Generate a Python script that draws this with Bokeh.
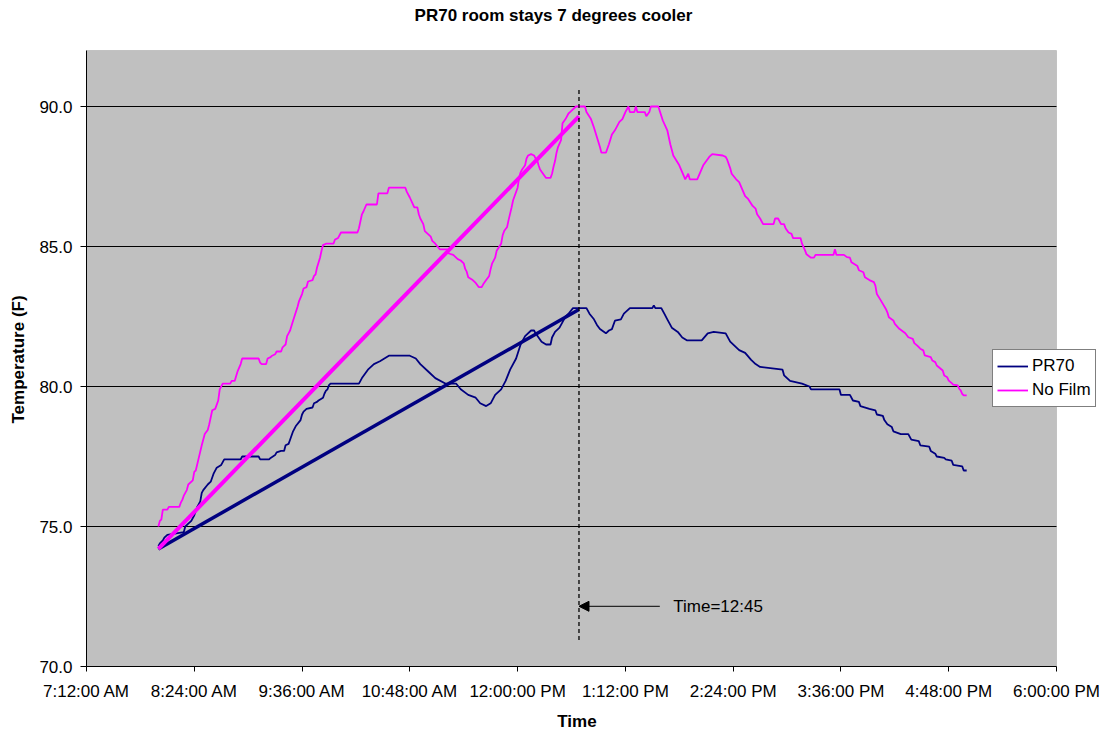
from bokeh.plotting import figure
from bokeh.models import (ColumnDataSource, FixedTicker, Legend, LegendItem, Label,
                          Arrow, NormalHead, Range1d, PrintfTickFormatter, BoxAnnotation)
from bokeh.embed import file_html
from bokeh.resources import INLINE

FONT = "Liberation Sans"

title_text = "PR70 room stays 7 degrees cooler"
x_axis_title = "Time"
y_axis_title = "Temperature (F)"

tick_times = ["7:12", "8:24", "9:36", "10:48", "12:00", "13:12", "14:24", "15:36", "16:48", "18:00"]
tick_labels = ["7:12:00 AM", "8:24:00 AM", "9:36:00 AM", "10:48:00 AM", "12:00:00 PM",
               "1:12:00 PM", "2:24:00 PM", "3:36:00 PM", "4:48:00 PM", "6:00:00 PM"]
y_ticks = [70, 75, 80, 85, 90]
grid_ticks = [75, 80, 85, 90]
y_min, y_max = 70, 92

pr70_times = ["8:00", "8:01", "8:03", "8:04", "8:06", "8:17", "8:18", "8:20", "8:22", "8:24",
              "8:26", "8:28", "8:29", "8:30", "8:33", "8:35", "8:37", "8:39", "8:42", "8:44",
              "8:55", "8:56", "9:07", "9:08", "9:14", "9:15", "9:18", "9:19", "9:22", "9:24",
              "9:25", "9:27", "9:28", "9:30", "9:32", "9:35", "9:36", "9:37", "9:39", "9:43",
              "9:44", "9:46", "9:47", "9:50", "9:51", "9:52", "9:53", "9:54", "9:55", "10:14",
              "10:16", "10:20", "10:24", "10:28", "10:34", "10:48", "10:52", "10:55", "11:01", "11:05",
              "11:12", "11:19", "11:22", "11:27", "11:32", "11:35", "11:39", "11:42", "11:45", "11:49",
              "11:52", "11:55", "11:59", "12:02", "12:05", "12:09", "12:11", "12:12", "12:14", "12:16",
              "12:19", "12:22", "12:23", "12:25", "12:28", "12:30", "12:32", "12:34", "12:37", "12:46",
              "12:48", "12:51", "12:53", "12:55", "12:59", "13:01", "13:03", "13:05", "13:09", "13:11",
              "13:15", "13:30", "13:31", "13:32", "13:36", "13:38", "13:40", "13:43", "13:47", "13:50",
              "13:53", "14:03", "14:07", "14:11", "14:19", "14:22", "14:28", "14:32", "14:36", "14:39",
              "14:42", "14:57", "14:58", "15:02", "15:10", "15:15", "15:16", "15:35", "15:36", "15:42",
              "15:44", "15:48", "15:49", "15:55", "15:59", "16:00", "16:04", "16:05", "16:07", "16:10",
              "16:11", "16:16", "16:21", "16:23", "16:28", "16:29", "16:35", "16:36", "16:39", "16:40",
              "16:45", "16:46", "16:50", "16:51", "16:57", "16:58", "17:00"]
pr70_temps = [74.3, 74.4, 74.5, 74.6, 74.7, 74.8, 75.0, 75.1, 75.2, 75.4,
              75.7, 75.9, 76.2, 76.3, 76.5, 76.6, 76.9, 77.1, 77.2, 77.4,
              77.4, 77.5, 77.5, 77.4, 77.4, 77.45, 77.55, 77.65, 77.7, 77.7,
              77.9, 77.95, 78.1, 78.4, 78.6, 78.8, 79.0, 79.1, 79.2, 79.25,
              79.4, 79.45, 79.5, 79.6, 79.75, 79.85, 79.9, 80.05, 80.1, 80.1,
              80.3, 80.6, 80.8, 80.9, 81.1, 81.1, 81.0, 80.8, 80.5, 80.3,
              80.1, 80.1, 79.9, 79.7, 79.6, 79.4, 79.3, 79.4, 79.7, 79.9,
              80.2, 80.6, 81.0, 81.5, 81.8, 82.0, 82.0, 81.9, 81.75, 81.6,
              81.5, 81.5, 81.75, 81.95, 82.1, 82.3, 82.5, 82.6, 82.8, 82.8,
              82.6, 82.4, 82.2, 82.05, 81.9, 82.0, 82.05, 82.35, 82.4, 82.6,
              82.8, 82.8, 82.9, 82.8, 82.8, 82.6, 82.4, 82.1, 81.95, 81.75,
              81.65, 81.65, 81.9, 81.95, 81.9, 81.6, 81.3, 81.2, 80.95, 80.8,
              80.7, 80.6, 80.4, 80.2, 80.1, 80.0, 79.9, 79.9, 79.7, 79.7,
              79.5, 79.45, 79.3, 79.2, 79.15, 79.0, 78.95, 78.8, 78.65, 78.55,
              78.4, 78.3, 78.3, 78.1, 78.05, 77.9, 77.85, 77.7, 77.6, 77.5,
              77.45, 77.4, 77.35, 77.2, 77.15, 77.0, 77.0]

nofilm_times = ["8:00", "8:01", "8:02", "8:03", "8:06", "8:07", "8:14", "8:15", "8:16", "8:17",
                "8:19", "8:20", "8:23", "8:24", "8:25", "8:27", "8:29", "8:31", "8:33", "8:34",
                "8:36", "8:38", "8:40", "8:41", "8:43", "8:48", "8:49", "8:51", "8:53", "8:55",
                "8:56", "9:07", "9:08", "9:09", "9:12", "9:13", "9:15", "9:16", "9:18", "9:19",
                "9:22", "9:23", "9:24", "9:25", "9:26", "9:27", "9:28", "9:30", "9:33", "9:34",
                "9:36", "9:37", "9:39", "9:40", "9:43", "9:44", "9:45", "9:46", "9:48", "9:49",
                "9:50", "9:52", "9:57", "9:58", "10:00", "10:02", "10:13", "10:14", "10:16", "10:17",
                "10:19", "10:26", "10:27", "10:33", "10:34", "10:45", "10:46", "10:48", "10:51", "10:53",
                "10:54", "10:55", "10:57", "10:58", "11:02", "11:03", "11:05", "11:08", "11:13", "11:14",
                "11:17", "11:20", "11:22", "11:24", "11:25", "11:26", "11:27", "11:30", "11:32", "11:34",
                "11:36", "11:37", "11:39", "11:41", "11:42", "11:43", "11:45", "11:46", "11:49", "11:50",
                "11:51", "11:53", "11:54", "11:56", "11:57", "12:00", "12:01", "12:02", "12:03", "12:05",
                "12:06", "12:07", "12:09", "12:11", "12:12", "12:13", "12:14", "12:15", "12:17", "12:19",
                "12:22", "12:23", "12:24", "12:25", "12:26", "12:27", "12:29", "12:30", "12:32", "12:34",
                "12:35", "12:39", "12:45", "12:46", "12:49", "12:51", "12:53", "12:55", "12:56", "12:59",
                "13:01", "13:03", "13:05", "13:08", "13:10", "13:12", "13:14", "13:15", "13:18", "13:19",
                "13:20", "13:25", "13:26", "13:28", "13:29", "13:34", "13:37", "13:40", "13:42", "13:44",
                "13:48", "13:50", "13:52", "13:54", "13:55", "14:00", "14:02", "14:04", "14:08", "14:10",
                "14:17", "14:19", "14:20", "14:22", "14:23", "14:26", "14:28", "14:30", "14:32", "14:34",
                "14:37", "14:39", "14:40", "14:42", "14:44", "14:51", "14:52", "14:54", "14:56", "14:58",
                "14:59", "15:01", "15:03", "15:04", "15:09", "15:10", "15:12", "15:13", "15:16", "15:18",
                "15:19", "15:31", "15:32", "15:33", "15:38", "15:40", "15:42", "15:43", "15:47", "15:48",
                "15:51", "15:52", "15:55", "15:58", "15:59", "16:00", "16:02", "16:04", "16:06", "16:07",
                "16:08", "16:11", "16:12", "16:15", "16:17", "16:19", "16:21", "16:24", "16:25", "16:27",
                "16:29", "16:31", "16:32", "16:36", "16:37", "16:39", "16:40", "16:44", "16:45", "16:47",
                "16:48", "16:50", "16:51", "16:54", "16:55", "16:56", "16:57", "16:58", "17:00"]
nofilm_temps = [75.0, 75.2, 75.25, 75.6, 75.6, 75.7, 75.7, 75.85, 75.95, 76.1,
                76.3, 76.5, 76.65, 76.95, 77.0, 77.45, 77.9, 78.3, 78.45, 78.65,
                79.15, 79.2, 79.5, 79.9, 80.1, 80.1, 80.2, 80.2, 80.55, 80.8,
                81.0, 81.0, 80.85, 80.8, 80.8, 81.0, 81.05, 81.1, 81.15, 81.25,
                81.25, 81.4, 81.45, 81.5, 81.8, 81.9, 82.0, 82.35, 82.85, 83.05,
                83.3, 83.5, 83.55, 83.75, 83.8, 83.95, 84.0, 84.25, 84.6, 84.85,
                85.05, 85.1, 85.1, 85.25, 85.3, 85.5, 85.5, 85.65, 86.15, 86.25,
                86.5, 86.5, 86.9, 86.9, 87.1, 87.1, 86.95, 86.75, 86.4, 86.4,
                86.15, 86.0, 85.8, 85.55, 85.35, 85.2, 85.1, 84.9, 84.9, 84.75,
                84.7, 84.55, 84.5, 84.4, 84.2, 84.1, 83.9, 83.8, 83.7, 83.55,
                83.55, 83.65, 83.8, 83.95, 84.2, 84.4, 84.6, 84.85, 85.1, 85.4,
                85.55, 85.7, 85.95, 86.4, 86.65, 87.1, 87.45, 87.65, 87.75, 87.9,
                88.15, 88.25, 88.3, 88.25, 88.15, 88.1, 87.9, 87.75, 87.6, 87.45,
                87.45, 87.6, 87.85, 88.05, 88.35, 88.55, 88.8, 89.4, 89.55, 89.75,
                89.8, 90.0, 90.0, 89.8, 89.55, 89.25, 88.9, 88.55, 88.35, 88.35,
                88.65, 89.0, 89.15, 89.45, 89.55, 89.8, 90.0, 89.8, 89.8, 90.0,
                89.8, 89.8, 89.65, 89.8, 90.0, 90.0, 89.5, 89.15, 88.65, 88.25,
                87.9, 87.65, 87.4, 87.6, 87.4, 87.4, 87.65, 87.9, 88.2, 88.3,
                88.25, 88.2, 88.1, 87.8, 87.6, 87.4, 87.3, 87.05, 86.8, 86.7,
                86.45, 86.35, 86.15, 86.0, 85.8, 85.8, 86.0, 86.0, 85.8, 85.8,
                85.65, 85.5, 85.45, 85.3, 85.3, 85.1, 84.86, 84.72, 84.6, 84.6,
                84.7, 84.7, 84.9, 84.7, 84.7, 84.62, 84.6, 84.44, 84.3, 84.15,
                84.08, 83.9, 83.8, 83.73, 83.6, 83.3, 83.13, 82.95, 82.77, 82.65,
                82.47, 82.36, 82.24, 82.06, 81.98, 81.9, 81.76, 81.7, 81.55, 81.46,
                81.35, 81.29, 81.11, 81.05, 80.93, 80.87, 80.75, 80.57, 80.39, 80.33,
                80.21, 80.12, 80.07, 80.04, 79.92, 79.86, 79.74, 79.68, 79.68]

trend_times = ["8:00", "12:41"]
pr70_trend = [74.2, 82.75]
nofilm_trend = [74.2, 89.65]

marker_time = "12:41"
marker_span = [70.95, 90.7]
arrow_from_time = "13:35"
arrow_temp = 72.15
marker_label = "Time=12:45"
marker_label_time = "13:44"

NAVY = "#000080"
PINK = "#FF00FF"

# layout (pixels)
LEFT, TOP, PLOT_W, PLOT_H, EXTRA_R = 86, 50, 970, 616, 44
NBSP = "\u00a0"


def to_min(s):
    h, m = s.split(":")
    return int(h) * 60 + int(m)


x0, x1 = to_min(tick_times[0]), to_min(tick_times[-1])
# frame extends beyond the plot area (to the right and up) so the legend and title are not clipped
x_end = x0 + (x1 - x0) * (PLOT_W + EXTRA_R) / PLOT_W
y_end = y_min + (y_max - y_min) * (PLOT_H + TOP) / PLOT_H

p = figure(frame_width=PLOT_W + EXTRA_R, frame_height=PLOT_H + TOP,
           x_range=Range1d(x0, x_end), y_range=Range1d(y_min, y_end),
           output_backend="svg", toolbar_location=None,
           min_border_left=LEFT, min_border_top=0, min_border_right=0, min_border_bottom=62,
           background_fill_color="white", border_fill_color="white",
           outline_line_color=None)

# gray plot area
p.add_layout(BoxAnnotation(left=x0, right=x1, bottom=y_min, top=y_max,
                           fill_color="#C0C0C0", fill_alpha=1.0,
                           line_color="#808080", line_width=1, level="underlay"))

# axes
p.xaxis.ticker = FixedTicker(ticks=[to_min(t) for t in tick_times])
p.xaxis.major_label_overrides = {to_min(t): lab for t, lab in zip(tick_times, tick_labels)}
p.xaxis.bounds = (x0, x1)
p.yaxis.ticker = FixedTicker(ticks=y_ticks)
p.yaxis.formatter = PrintfTickFormatter(format="%.1f")
p.yaxis.bounds = (y_min, y_max)
for ax in (p.xaxis, p.yaxis):
    ax.axis_line_color = "black"
    ax.major_tick_line_color = "black"
    ax.minor_tick_line_color = None
    ax.major_tick_in = 0
    ax.major_label_text_font = FONT
    ax.major_label_text_font_size = "17px"
    ax.major_label_text_color = "black"
    ax.axis_label_text_font = FONT
    ax.axis_label_text_font_size = "17px"
    ax.axis_label_text_font_style = "bold"
    ax.axis_label_text_color = "black"
p.xaxis.major_tick_out = 5
p.xaxis.major_label_standoff = 10
# the axis labels are centred on the (extended) frame; trailing no-break spaces re-centre them on the plot area
p.xaxis.axis_label = x_axis_title + NBSP * 7
p.xaxis.axis_label_standoff = 8
p.yaxis.major_tick_out = 6
p.yaxis.major_label_standoff = 8
p.yaxis.axis_label = y_axis_title + NBSP * 11
p.yaxis.axis_label_standoff = 8

p.xgrid.visible = False
p.ygrid.visible = False
p.segment(x0=[x0] * len(grid_ticks), x1=[x1] * len(grid_ticks), y0=grid_ticks, y1=grid_ticks,
          line_color="black", line_width=1)

# data lines
src_pr = ColumnDataSource(dict(t=[to_min(t) for t in pr70_times], v=pr70_temps))
src_nf = ColumnDataSource(dict(t=[to_min(t) for t in nofilm_times], v=nofilm_temps))
r_pr = p.line("t", "v", source=src_pr, line_color=NAVY, line_width=1.8)
r_nf = p.line("t", "v", source=src_nf, line_color=PINK, line_width=1.8)

# trend lines
tx = [to_min(t) for t in trend_times]
p.line(tx, pr70_trend, line_color=NAVY, line_width=3.5)
p.line(tx, nofilm_trend, line_color=PINK, line_width=4)

# marker
mx = to_min(marker_time)
p.line([mx, mx], marker_span, line_color="black", line_width=1.3, line_dash="4 3")
p.add_layout(Arrow(end=NormalHead(size=10, fill_color="black", line_color="black"),
                   x_start=to_min(arrow_from_time), y_start=arrow_temp,
                   x_end=mx, y_end=arrow_temp, line_color="black", line_width=1))
p.add_layout(Label(x=to_min(marker_label_time), y=arrow_temp, text=marker_label,
                   text_font=FONT, text_font_size="17px", text_color="black",
                   text_align="left", text_baseline="middle"))

# title (centered on page)
p.add_layout(Label(x=467, y=PLOT_H + TOP - 15, x_units="screen", y_units="screen", text=title_text,
                   text_font=FONT, text_font_size="17px", text_font_style="bold",
                   text_color="black", text_align="center", text_baseline="middle"))

legend = Legend(items=[LegendItem(label="PR70", renderers=[r_pr]),
                       LegendItem(label="No Film", renderers=[r_nf])],
                location=(906, 259), orientation="vertical",
                background_fill_color="white", background_fill_alpha=1.0,
                border_line_color="black", border_line_width=1,
                label_text_font=FONT, label_text_font_size="17px",
                label_text_color="black",
                padding=4, spacing=0, margin=0,
                label_height=24, glyph_height=24, glyph_width=31, label_standoff=4)
p.add_layout(legend)

open("out.html", "w").write(file_html(p, INLINE))
